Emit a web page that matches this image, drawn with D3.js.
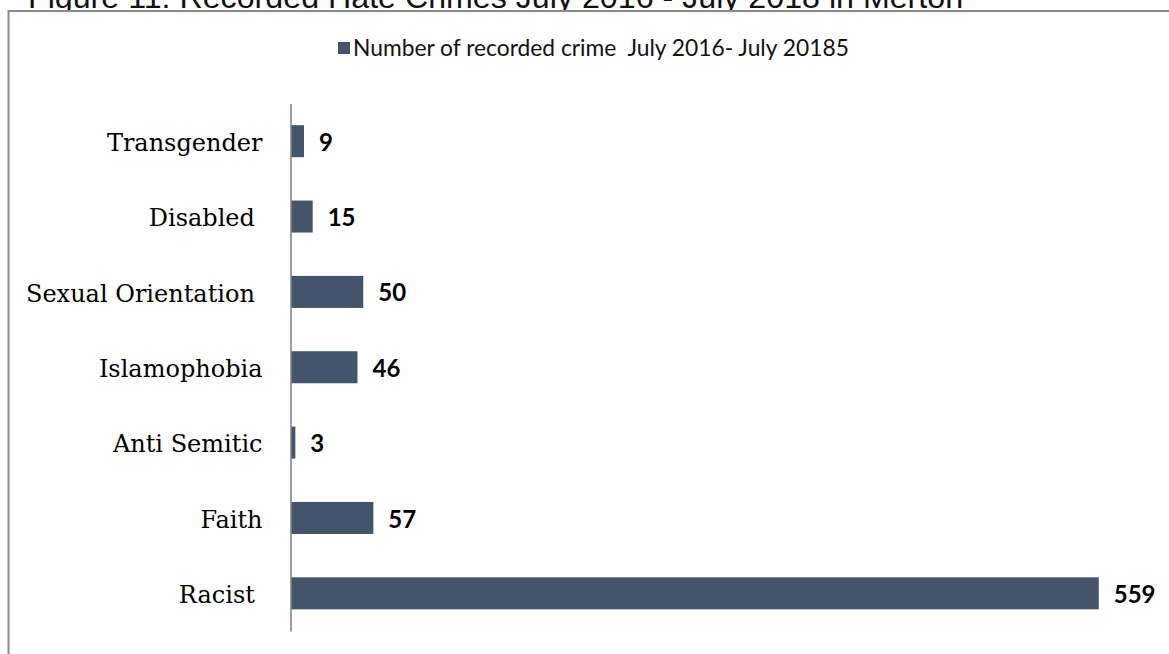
<!DOCTYPE html>
<html>
<head>
<meta charset="utf-8">
<script src="https://cdn.jsdelivr.net/npm/d3@7"></script>
<style>
  html, body { margin: 0; padding: 0; background: #fff; overflow: hidden; }
  svg { display: block; }
  text { white-space: pre; }
</style>
</head>
<body>
<script>
// Hate crime categories, listed top to bottom (trailing spaces kept as in the source labels)
const categories = ["Transgender", "Disabled ", "Sexual Orientation ", "Islamophobia", "Anti Semitic", "Faith", "Racist "];
// Number of recorded crimes per category
const counts = [9, 15, 50, 46, 3, 57, 559];
// Value axis extent (hidden axis)
const xDomain = [0, 600];
const seriesName = "Number of recorded crime  July 2016- July 20185";
const titleText = "Figure 11: Recorded Hate Crimes July 2016 - July 2018 in Merton";

const W = 1169, H = 654;
const barColor = "#44546A";

const svg = d3.select("body").append("svg")
  .attr("width", W).attr("height", H);

// Figure caption, partly hidden behind the chart frame
svg.append("text")
  .attr("x", 28).attr("y", 7.5)
  .attr("font-family", "'Liberation Sans', Arial, sans-serif")
  .attr("font-size", 32.2)
  .attr("fill", "#111")
  .text(titleText);

// Chart frame: white panel with top and left edges drawn
svg.append("rect")
  .attr("x", 8.5).attr("y", 10.5)
  .attr("width", W).attr("height", H)
  .attr("fill", "#fff");
svg.append("path")
  .attr("d", `M8.5,${H} V11 H${W}`)
  .attr("fill", "none")
  .attr("stroke", "#8a8a8a")
  .attr("stroke-width", 2);

// Scales
const x = d3.scaleLinear().domain(xDomain).range([291, 1158]);
const y = d3.scaleBand().domain(categories).range([103.5, 631])
  .paddingInner(0.575).paddingOuter(0.2875);

// Legend
const legend = svg.append("g");
legend.append("rect")
  .attr("x", 338).attr("y", 42).attr("width", 12).attr("height", 12)
  .attr("fill", barColor);
legend.append("text")
  .attr("x", 353).attr("y", 48)
  .attr("dy", "0.35em")
  .attr("font-family", "Lato, 'Open Sans', sans-serif")
  .attr("font-size", 22.8)
  .attr("fill", "#111")
  .text(seriesName);

// Bars
svg.append("g").selectAll("rect")
  .data(categories)
  .join("rect")
  .attr("x", x(0))
  .attr("y", d => y(d))
  .attr("width", (d, i) => x(counts[i]) - x(0))
  .attr("height", y.bandwidth())
  .attr("fill", barColor);

// Category axis (line only, no ticks)
const yAxis = svg.append("g")
  .attr("transform", `translate(${x(0) - 0.5},0)`)
  .call(d3.axisLeft(y).tickSize(0).tickPadding(28));
yAxis.select(".domain").attr("stroke", "#868686").attr("stroke-width", 1.6);
yAxis.selectAll(".tick text")
  .attr("font-family", "'DejaVu Serif', serif")
  .attr("font-size", 24)
  .attr("fill", "#000")
  .attr("dy", "0.4em");

// Value labels
svg.append("g").selectAll("text")
  .data(categories)
  .join("text")
  .attr("x", (d, i) => x(counts[i]) + 15)
  .attr("y", d => y(d) + y.bandwidth() / 2)
  .attr("dy", "0.4em")
  .attr("font-family", "Lato, 'Open Sans', sans-serif")
  .attr("font-weight", "bold")
  .attr("font-size", 24)
  .attr("fill", "#000")
  .text((d, i) => counts[i]);
</script>
</body>
</html>
